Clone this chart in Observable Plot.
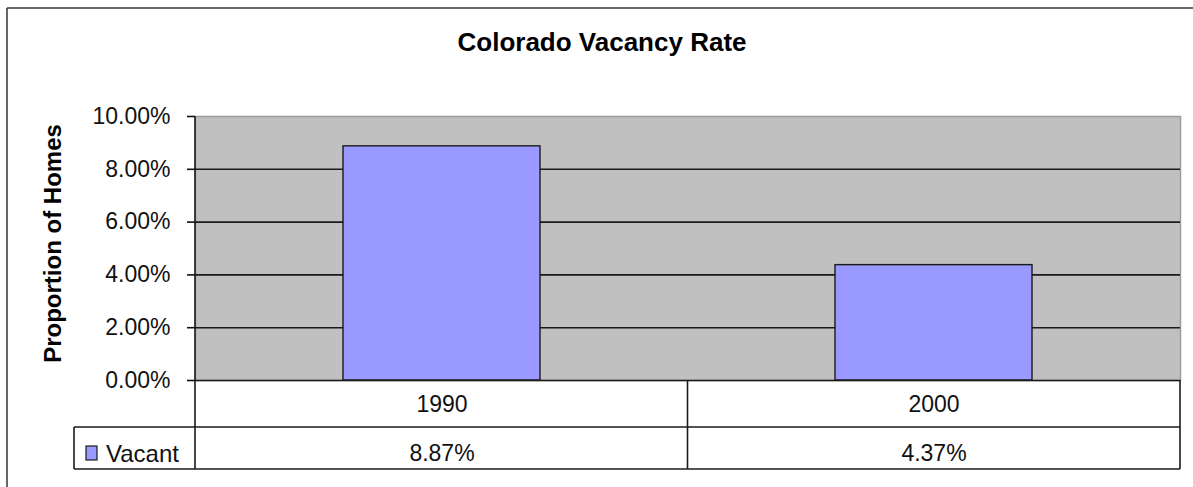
<!DOCTYPE html>
<html><head><meta charset="utf-8">
<script src="https://cdn.jsdelivr.net/npm/d3@7"></script>
<script src="https://cdn.jsdelivr.net/npm/@observablehq/plot@0.6"></script>
<style>
html,body{margin:0;padding:0;background:#fff;overflow:hidden;}
</style>
</head><body><div id="chart"></div>
<script>
const title = "Colorado Vacancy Rate";
const yLabel = "Proportion of Homes";
const seriesName = "Vacant";
const years = ["1990", "2000"];
const vacancy = [0.0887, 0.0437];
const yTicks = [0, 0.02, 0.04, 0.06, 0.08, 0.10];

const data = years.map((year, i) => ({year, value: vacancy[i]}));
const pct = d3.format(".2%");

const W = 1193, H = 487;
const ink = "#1a1a1a";
const barFill = "#9999ff";
const font = "'Liberation Sans', Arial, Helvetica, sans-serif";

function tableMark(index, scales, values, dims) {
  const g = d3.create("svg:g").attr("fill", "none");
  const left = dims.marginLeft, right = dims.width - dims.marginRight;
  const top = dims.marginTop, bottom = dims.height - dims.marginBottom;
  const sx = scales.x;
  const bw = typeof sx.bandwidth === "function" ? sx.bandwidth() : sx.bandwidth;
  const xs = years.map(y => sx(y));
  const step = xs[1] - xs[0];
  const gap = (step - bw) / 2;
  const bounds = [left, ...xs.slice(1).map(x => x - gap), right];
  const row1 = bottom + 47, row2 = bottom + 89;
  const legendLeft = 74;
  const line = (x1, y1, x2, y2, w = 1.6, c = ink) =>
    g.append("line").attr("x1", x1).attr("y1", y1).attr("x2", x2).attr("y2", y2)
      .attr("stroke", c).attr("stroke-width", w);
  // outer chart border (top and left visible)
  line(7, 8, dims.width + 5, 8, 1.5, "#333");
  line(7, 8, 7, dims.height + 5, 1.5, "#333");
  // y axis line extends through the data table
  line(left, top, left, row2);
  // data table rows
  line(legendLeft, row1, right, row1);
  line(legendLeft, row2, right, row2);
  line(legendLeft, row1, legendLeft, row2);
  bounds.slice(1).forEach(x => line(x, bottom, x, row2));
  // legend key
  g.append("rect").attr("x", 86).attr("y", row1 + 19).attr("width", 11).attr("height", 14)
    .attr("fill", barFill).attr("stroke", ink).attr("stroke-width", 1.2);
  g.append("text").attr("x", 106).attr("y", row1 + 26).attr("dy", "0.36em")
    .attr("text-anchor", "start")
    .attr("fill", "#111").attr("font-size", 24).attr("font-family", font).text(seriesName);
  return g.node();
}

const chart = Plot.plot({
  width: W,
  height: H,
  marginLeft: 195,
  marginRight: 13,
  marginTop: 116,
  marginBottom: 107,
  style: {fontFamily: font, background: "#fff", overflow: "visible"},
  x: {type: "band", domain: years, paddingInner: 0.6, paddingOuter: 0.3, axis: null},
  y: {domain: [0, 0.1], axis: null},
  marks: [
    Plot.frame({fill: "#c0c0c0", stroke: "#9c9c9c", strokeWidth: 1.5}),
    Plot.ruleY(yTicks.slice(1, -1), {stroke: ink, strokeWidth: 1.6}),
    Plot.barY(data, {x: "year", y: "value", fill: barFill, stroke: ink, strokeWidth: 1.4}),
    Plot.ruleY([0], {stroke: ink, strokeWidth: 1.6}),
    Plot.axisY({ticks: yTicks, tickFormat: pct, tickSize: 8, tickPadding: 17,
      fontSize: 23, color: "#111", strokeWidth: 1.6, label: null}),
    Plot.text(years, {x: d => d, text: d => d, frameAnchor: "bottom", lineAnchor: "middle",
      textAnchor: "middle", dy: 24, fontSize: 23, fill: "#111"}),
    Plot.text(data, {x: "year", text: d => pct(d.value), frameAnchor: "bottom", lineAnchor: "middle",
      textAnchor: "middle", dy: 73, fontSize: 23, fill: "#111"}),
    Plot.text([title], {frameAnchor: "top", lineAnchor: "middle", textAnchor: "middle",
      dy: -74, dx: -86, fontSize: 26, fontWeight: "bold", fill: "#000"}),
    Plot.text([yLabel], {frameAnchor: "left", lineAnchor: "middle", textAnchor: "middle",
      rotate: -90, dx: -142, dy: -5, fontSize: 24, fontWeight: "bold", fill: "#000"}),
    tableMark
  ]
});
document.getElementById("chart").appendChild(chart);
</script>
</body></html>
